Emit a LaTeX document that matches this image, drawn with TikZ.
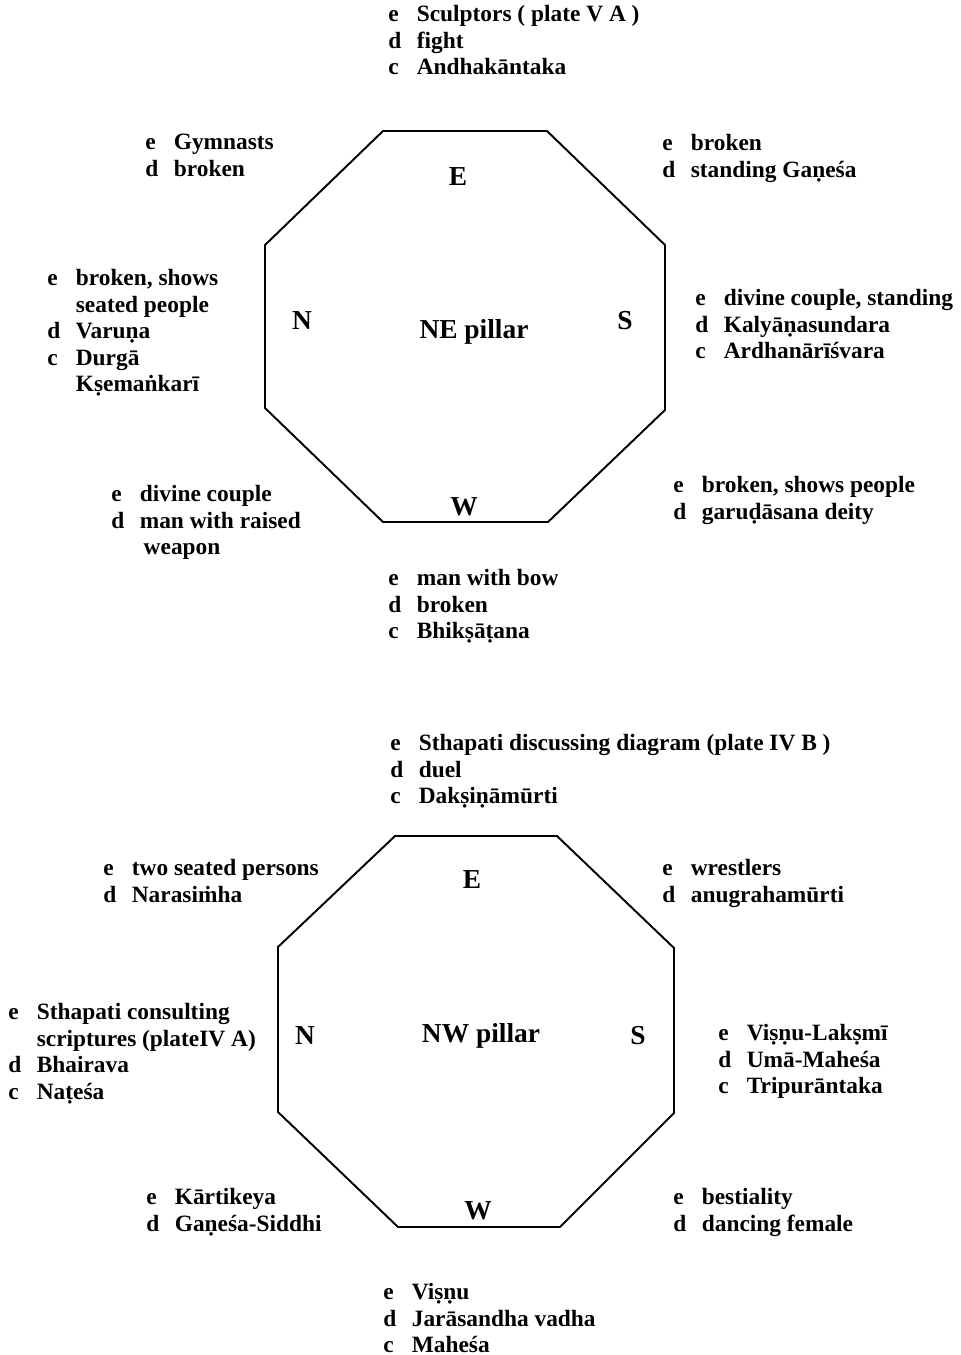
\documentclass[tikz,border=0pt]{standalone}
\usepackage{fontspec}
\setmainfont{Liberation Serif}
\usetikzlibrary{positioning}
\tikzset{face/.style={anchor=north west, inner sep=0pt, align=left, font=\fontsize{13.3}{15.08}\selectfont\bfseries},
    dir/.style={inner sep=0pt, font=\fontsize{15.6}{18}\selectfont\bfseries},
    pillar/.style={line width=1.1pt, line join=miter}}
\newcommand{\facerow}[2]{\makebox[0.57cm][l]{#1}#2}
\begin{document}
\begin{tikzpicture}[x=0.2mm,y=-0.2mm]
                 \useasboundingbox(0,0)rectangle(961,1355);
                 % NE pillar
                 \draw[pillar](383,131)--(547,131)--(665,245)--(665,410)--(548,522)--(383,522)--(265,408)--(265,245)--cycle;
                 \node[dir](ne-E)at(458,177){E};
                 \node[dir](ne-N)at(302,321){N};
                 \node[dir](ne-S)at(625,321){S};
                 \node[dir](ne-W)at(464,507){W};
                 \node[dir](ne-name)at(474,332){NE pillar};
                 \node[face](ne-top)at(388,5){\facerow{e}{Sculptors ( plate V A )}\\\facerow{d}{fight}\\\facerow{c}{Andhakāntaka}};
                 \node[face](ne-tl)at(145,134){\facerow{e}{Gymnasts}\\\facerow{d}{broken}};
                 \node[face](ne-tr)at(662,134){\facerow{e}{broken}\\\facerow{d}{standing Gaṇeśa}};
                 \node[face](ne-l)at(47,269){\facerow{e}{broken, shows}\\\facerow{}{seated people}\\\facerow{d}{Varuṇa}\\\facerow{c}{Durgā}\\\facerow{}{Kṣemaṅkarī}};
                 \node[face](ne-r)at(695,289){\facerow{e}{divine couple, standing}\\\facerow{d}{Kalyāṇasundara}\\\facerow{c}{Ardhanārīśvara}};
                 \node[face](ne-bl)at(111,485){\facerow{e}{divine couple}\\\facerow{d}{man with  raised}\\\facerow{}{\,weapon}};
                 \node[face](ne-br)at(673,476){\facerow{e}{broken,  shows people}\\\facerow{d}{garuḍāsana deity}};
                 \node[face](ne-bot)at(388,569){\facerow{e}{man with bow}\\\facerow{d}{broken}\\\facerow{c}{Bhikṣāṭana}};
                 % NW pillar
                 \draw[pillar](395,836)--(557,836)--(674,948)--(674,1113)--(560,1227)--(398,1227)--(278,1112)--(278,947)--cycle;
                 \node[dir](nw-E)at(472,880){E};
                 \node[dir](nw-N)at(305,1036){N};
                 \node[dir](nw-S)at(638,1036){S};
                 \node[dir](nw-W)at(478,1211){W};
                 \node[dir](nw-name)at(481,1036){NW pillar};
                 \node[face](nw-top)at(390,734){\facerow{e}{Sthapati discussing diagram (plate IV B )}\\\facerow{d}{duel}\\\facerow{c}{Dakṣiṇāmūrti}};
                 \node[face](nw-tl)at(103,859){\facerow{e}{two seated persons}\\\facerow{d}{Narasiṁha}};
                 \node[face](nw-tr)at(662,859){\facerow{e}{wrestlers}\\\facerow{d}{anugrahamūrti}};
                 \node[face](nw-l)at(8,1003){\facerow{e}{Sthapati consulting}\\\facerow{}{scriptures (plateIV A)}\\\facerow{d}{Bhairava}\\\facerow{c}{Naṭeśa}};
                 \node[face](nw-r)at(718,1024){\facerow{e}{Viṣṇu-Lakṣmī}\\\facerow{d}{Umā-Maheśa}\\\facerow{c}{Tripurāntaka}};
                 \node[face](nw-bl)at(146,1188){\facerow{e}{Kārtikeya}\\\facerow{d}{Gaṇeśa-Siddhi}};
                 \node[face](nw-br)at(673,1188){\facerow{e}{bestiality}\\\facerow{d}{dancing female}};
                 \node[face](nw-bot)at(383,1283){\facerow{e}{Viṣṇu}\\\facerow{d}{Jarāsandha vadha}\\\facerow{c}{Maheśa}};
             \end{tikzpicture}
\end{document}
